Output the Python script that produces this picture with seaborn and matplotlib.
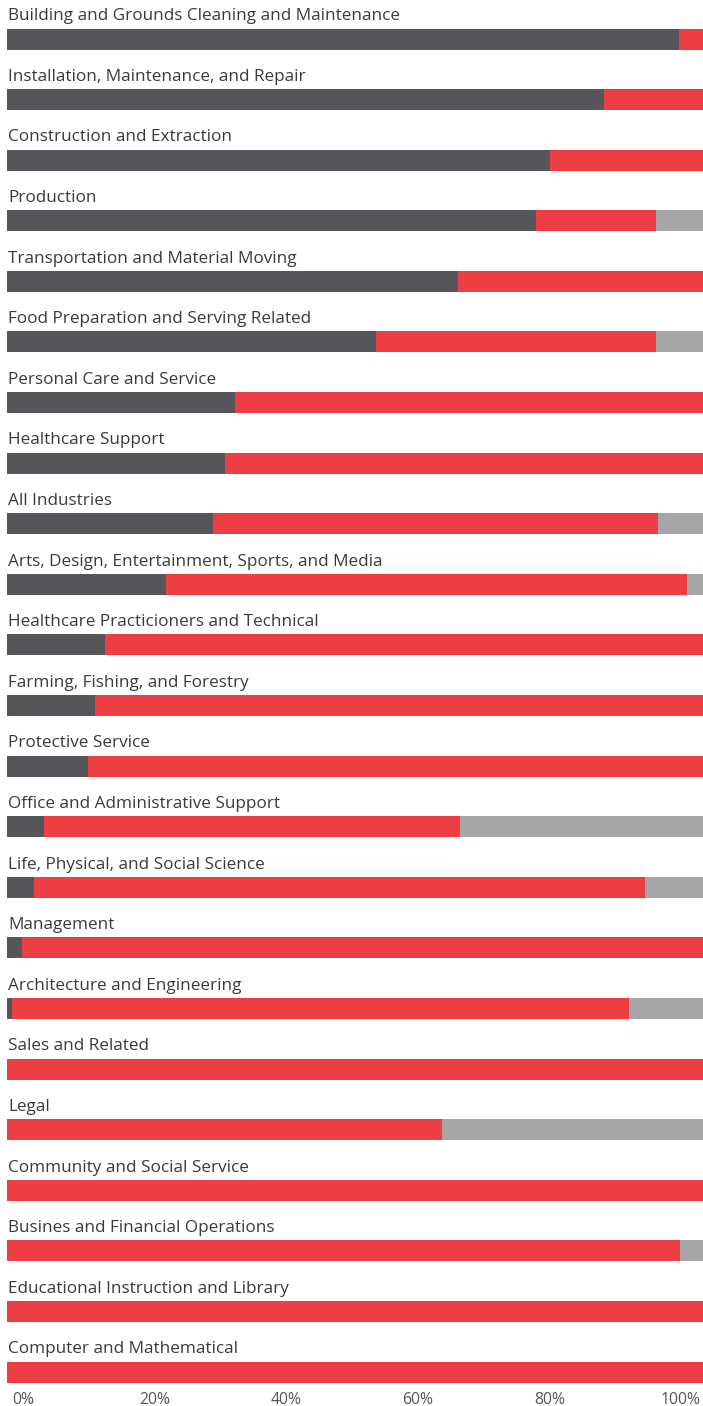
import matplotlib
matplotlib.use("Agg")
import matplotlib.pyplot as plt
import seaborn as sns
import pandas as pd

# occupations, top to bottom
occupations = [
    "Building and Grounds Cleaning and Maintenance",
    "Installation, Maintenance, and Repair",
    "Construction and Extraction",
    "Production",
    "Transportation and Material Moving",
    "Food Preparation and Serving Related",
    "Personal Care and Service",
    "Healthcare Support",
    "All Industries",
    "Arts, Design, Entertainment, Sports, and Media",
    "Healthcare Practicioners and Technical",
    "Farming, Fishing, and Forestry",
    "Protective Service",
    "Office and Administrative Support",
    "Life, Physical, and Social Science",
    "Management",
    "Architecture and Engineering",
    "Sales and Related",
    "Legal",
    "Community and Social Service",
    "Busines and Financial Operations",
    "Educational Instruction and Library",
    "Computer and Mathematical",
]

# share of each segment in percent (grey segment is the remainder up to 100)
dark_pct = [96.6, 85.8, 78.0, 76.0, 64.8, 53.0, 32.8, 31.3, 29.6, 22.8, 14.1, 12.6,
            11.6, 5.3, 3.9, 2.2, 0.7, 0, 0, 0, 0, 0, 0]
red_pct = [3.4, 14.2, 22.0, 17.2, 35.2, 40.2, 67.2, 68.7, 63.9, 74.9, 85.9, 87.4,
           88.4, 59.8, 87.8, 97.8, 88.7, 100, 62.5, 100, 96.7, 100, 100]

tick_values = [0, 20, 40, 60, 80, 100]
tick_labels = ["0%", "20%", "40%", "60%", "80%", "100%"]

DARK = "#55565a"
RED = "#ec3e43"
GRAY = "#a6a6a8"
TEXT = "#3a3a3a"

sns.set_style("white")
plt.rcParams['font.family'] = ['Open Sans', 'DejaVu Sans']

df = pd.DataFrame({"Occupation": occupations, "dark": dark_pct, "red": red_pct})
df["red_end"] = df["dark"] + df["red"]
df["total"] = 100.0

fig = plt.figure(figsize=(7.03, 14.06), dpi=100)
ax = fig.add_axes([7 / 703, 1 - 1386 / 1406, 696 / 703, 1386 / 1406])

bar_h = 21 / 60.6
for col, colr in [("total", GRAY), ("red_end", RED), ("dark", DARK)]:
    sns.barplot(data=df, x=col, y="Occupation", orient="h", color=colr,
                saturation=1, width=bar_h, linewidth=0, ax=ax)

ax.set_xlim(0, 100)
ax.set_ylim(22.23, -0.644)
ax.set_xticks([])
ax.set_yticks([])
ax.set_xlabel("")
ax.set_ylabel("")
for s in ax.spines.values():
    s.set_visible(False)

for i, name in enumerate(occupations):
    ax.text(0.15, i - 0.31, name, ha="left", va="baseline", fontsize=12.3,
            color=TEXT)

# percentage axis along the bottom
ax2 = ax.twiny()
ax2.xaxis.set_ticks_position("bottom")
ax2.set_xlim((7 - 23) / 658 * 100, (703 - 23) / 658 * 100)
ax2.set_xticks(tick_values)
ax2.set_xticklabels(tick_labels, fontsize=11.3, color="#555555")
ax2.tick_params(axis="x", length=0, pad=4)
for s in ax2.spines.values():
    s.set_visible(False)

fig.savefig("out.png", dpi=100)
